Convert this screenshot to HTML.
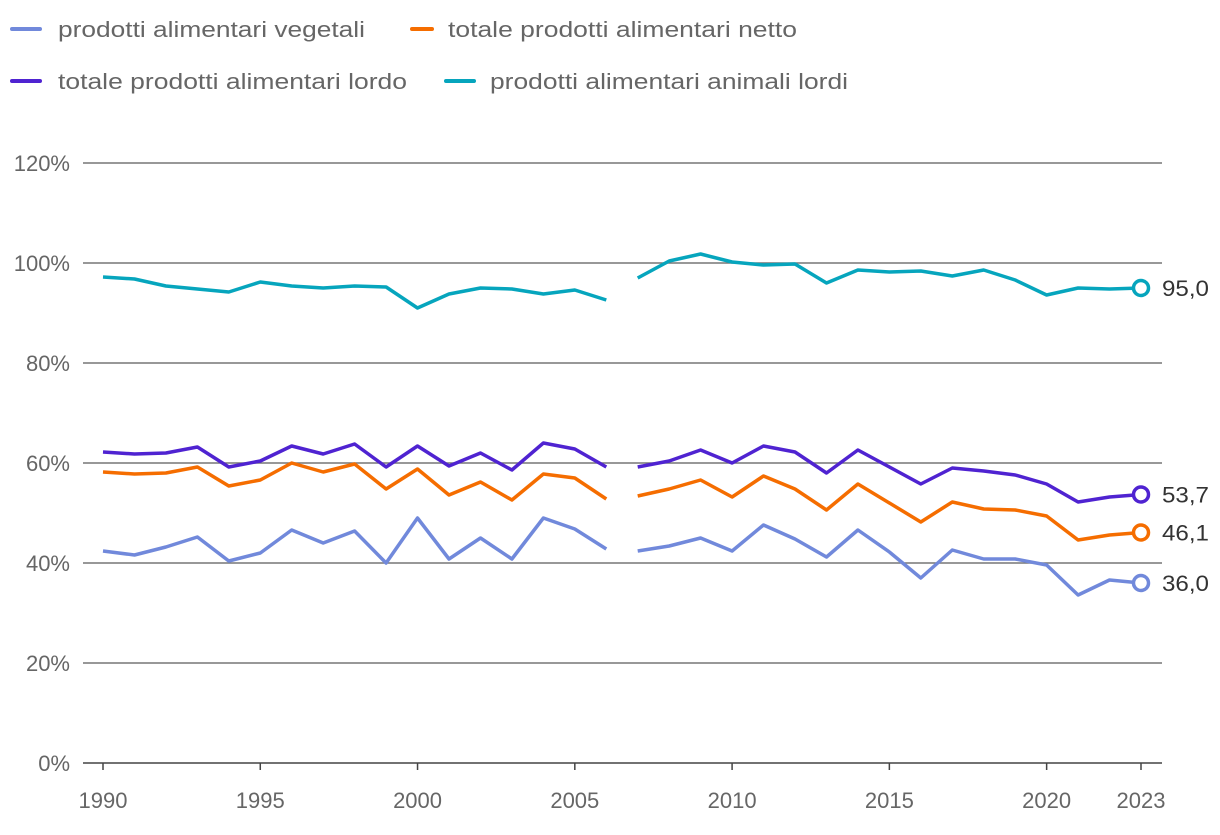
<!DOCTYPE html>
<html><head><meta charset="utf-8"><style>
body{margin:0;background:#fff;font-family:"Liberation Sans","DejaVu Sans",sans-serif;}
svg text{font-family:"Liberation Sans","DejaVu Sans",sans-serif;}
</style></head><body>
<svg id="chart" width="1220" height="830" xmlns="http://www.w3.org/2000/svg">
<g id="legend">
<g><line x1="12" y1="29" x2="40" y2="29" stroke="#7189db" stroke-width="4" stroke-linecap="round"/><text x="58" y="37" font-size="22" fill="#666" textLength="307" lengthAdjust="spacingAndGlyphs">prodotti alimentari vegetali</text></g>
<g><line x1="412" y1="29" x2="432" y2="29" stroke="#f56d00" stroke-width="4" stroke-linecap="round"/><text x="448" y="37" font-size="22" fill="#666" textLength="349" lengthAdjust="spacingAndGlyphs">totale prodotti alimentari netto</text></g>
<g><line x1="12" y1="81" x2="40" y2="81" stroke="#4f23d1" stroke-width="4" stroke-linecap="round"/><text x="58" y="89" font-size="22" fill="#666" textLength="349" lengthAdjust="spacingAndGlyphs">totale prodotti alimentari lordo</text></g>
<g><line x1="446" y1="81" x2="474" y2="81" stroke="#06a5bd" stroke-width="4" stroke-linecap="round"/><text x="490" y="89" font-size="22" fill="#666" textLength="358" lengthAdjust="spacingAndGlyphs">prodotti alimentari animali lordi</text></g>
</g>
<g id="grid"></g><g id="xaxis"></g><g id="series"></g>
</svg>
<script>
const years=[];for(let y=1990;y<=2023;y++)years.push(y);
const yTicks=[0,20,40,60,80,100,120];
const xTicks=[1990,1995,2000,2005,2010,2015,2020,2023];
const animali=[97.2,96.8,95.4,94.8,94.2,96.2,95.4,95.0,95.4,95.2,91.0,93.8,95.0,94.8,93.8,94.6,92.6,97.0,100.4,101.8,100.2,99.6,99.8,96.0,98.6,98.2,98.4,97.4,98.6,96.6,93.6,95.0,94.8,95.0];
const lordo=[62.2,61.8,62.0,63.2,59.2,60.4,63.4,61.8,63.8,59.2,63.4,59.4,62.0,58.6,64.0,62.8,59.2,59.2,60.4,62.6,60.0,63.4,62.2,58.0,62.6,59.2,55.8,59.0,58.4,57.6,55.8,52.2,53.2,53.7];
const netto=[58.2,57.8,58.0,59.2,55.4,56.6,60.0,58.2,59.8,54.8,58.8,53.6,56.2,52.6,57.8,57.0,52.8,53.4,54.8,56.6,53.2,57.4,54.8,50.6,55.8,52.0,48.2,52.2,50.8,50.6,49.4,44.6,45.6,46.1];
const vegetali=[42.4,41.6,43.2,45.2,40.4,42.0,46.6,44.0,46.4,40.0,49.0,40.8,45.0,40.8,49.0,46.8,42.8,42.4,43.4,45.0,42.4,47.6,44.8,41.2,46.6,42.2,37.0,42.6,40.8,40.8,39.6,33.6,36.6,36.0];
const endLabels=["95,0","53,7","46,1","36,0"];
const gapAfter=2006;
const NS="http://www.w3.org/2000/svg";
const X=y=>103+(y-1990)*(1141-103)/33;
const Y=v=>763-v*5;
function mk(t,a,p){const e=document.createElementNS(NS,t);for(const k in a)e.setAttribute(k,a[k]);p.appendChild(e);return e;}
const grid=document.getElementById('grid');
yTicks.forEach(v=>{
 const l=mk('line',{x1:83,x2:1162,y1:Y(v),y2:Y(v),stroke:v===0?'#444':'#777','stroke-width':1.5},grid);
 
 
 const t=mk('text',{x:70,y:Y(v)+8,'text-anchor':'end','font-size':22,fill:'#666'},grid);
 t.textContent=v+'%';
 
 
});
const xa=document.getElementById('xaxis');
xTicks.forEach(yr=>{
 const l=mk('line',{x1:X(yr),x2:X(yr),y1:763,y2:770,stroke:'#444','stroke-width':1.5},xa);
 
 
 const t=mk('text',{x:X(yr),y:808,'text-anchor':'middle','font-size':22,fill:'#666'},xa);
 t.textContent=yr;
 
 
});
const ser=document.getElementById('series');
const defs=[[animali,'#06a5bd','animali'],[lordo,'#4f23d1','lordo'],[netto,'#f56d00','netto'],[vegetali,'#7189db','vegetali']];
defs.forEach(([d,c,n],i)=>{
 let p1='',p2='';
 years.forEach((yr,j)=>{const pt=X(yr).toFixed(1)+','+Y(d[j]).toFixed(1)+' ';if(yr<=gapAfter)p1+=pt;else p2+=pt;});
 [p1,p2].forEach(p=>{
  const l=mk('polyline',{points:p,fill:'none',stroke:c,'stroke-width':3.5,'stroke-linejoin':'round'},ser);
  
  
 });
 const last=d[d.length-1];
 const m=mk('circle',{cx:X(2023),cy:Y(last),r:7.5,fill:'#fff',stroke:c,'stroke-width':3.5},ser);
 
 
 const t=mk('text',{x:1162,y:Y(last)+8,'font-size':22,fill:'#333',textLength:47,lengthAdjust:'spacingAndGlyphs'},ser);
 t.textContent=endLabels[i];
 
 
});
</script>
</body></html>
